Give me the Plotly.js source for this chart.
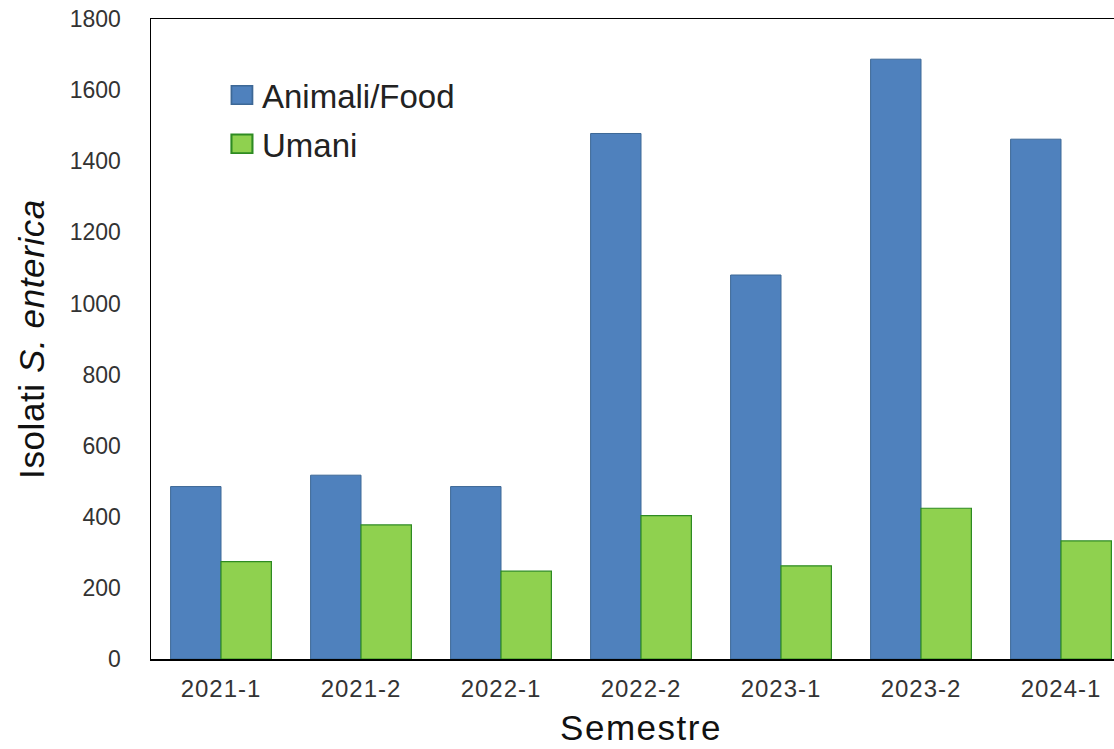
<!DOCTYPE html>
<html>
<head>
<meta charset="utf-8">
<script src="https://cdn.plot.ly/plotly-3.0.1.min.js"></script>
<style>
  html, body { margin: 0; padding: 0; overflow: hidden; background: #fff; }
  /* slightly wider lettering for the category labels and titles */
  #chart .xtick text { letter-spacing: 1px; }
  #chart text.xtitle { letter-spacing: 1.5px; }
  #chart text.ytitle { letter-spacing: 0.6px; }
  /* larger legend swatches, kept at their usual centre */
  #chart .legendpoints path { transform: translate(20px, 0px) scale(1.75, 1.55); }
</style>
</head>
<body>
<div id="chart"></div>
<script>
// Semesters on the x axis
const semestri = ['2021-1', '2021-2', '2022-1', '2022-2', '2023-1', '2023-2', '2024-1'];
// Isolates from animals / food
const animaliFood = [485, 517, 485, 1478, 1080, 1687, 1462];
// Isolates from humans
const umani = [274, 377, 247, 403, 262, 424, 332];

const yTicks = [0, 200, 400, 600, 800, 1000, 1200, 1400, 1600, 1800];

const fontFamily = '"Liberation Sans", Arial, sans-serif';

const traces = [
  {
    type: 'bar',
    name: 'Animali/Food',
    legendgroup: 'a',
    x: semestri,
    y: animaliFood,
    marker: { color: '#4F81BD', line: { color: '#3D6896', width: 1 } },
    hoverinfo: 'x+y'
  },
  {
    type: 'bar',
    name: 'Umani',
    legendgroup: 'u',
    x: semestri,
    y: umani,
    marker: { color: '#8FD14F', line: { color: '#2E8B22', width: 1.2 } },
    hoverinfo: 'x+y'
  }
];

const layout = {
  width: 1150,
  height: 749,
  margin: { l: 151, r: 19, t: 19, b: 90 },
  paper_bgcolor: '#ffffff',
  plot_bgcolor: '#ffffff',
  barmode: 'group',
  bargap: 0.28,
  bargroupgap: 0,
  font: { family: fontFamily, color: '#222' },
  showlegend: true,
  legend: {
    x: 0.0724, y: 0.925, xanchor: 'left', yanchor: 'top',
    bgcolor: 'rgba(0,0,0,0)',
    font: { family: fontFamily, size: 33, color: '#222' },
    tracegroupgap: 3
  },
  xaxis: {
    type: 'category',
    range: [-0.5, 6.5],
    showline: true, linecolor: '#000', linewidth: 1.5, mirror: true,
    showgrid: false, zeroline: false, ticks: '',
    tickfont: { family: fontFamily, size: 24, color: '#333' },
    ticklabelstandoff: 8,
    automargin: false,
    title: { text: 'Semestre', font: { family: fontFamily, size: 35, color: '#111' }, standoff: 14 }
  },
  yaxis: {
    range: [0, 1800],
    tickvals: yTicks,
    ticktext: yTicks.map(String),
    showline: true, linecolor: '#000', linewidth: 1.5, mirror: true,
    showgrid: false, zeroline: false, ticks: '',
    tickfont: { family: fontFamily, size: 23, color: '#333' },
    ticklabelstandoff: 24,
    automargin: false,
    title: { text: 'Isolati <i>S. enterica</i>', font: { family: fontFamily, size: 35, color: '#111' }, standoff: 14 }
  }
};

Plotly.newPlot('chart', traces, layout, { displayModeBar: false, staticPlot: true });
</script>
</body>
</html>
